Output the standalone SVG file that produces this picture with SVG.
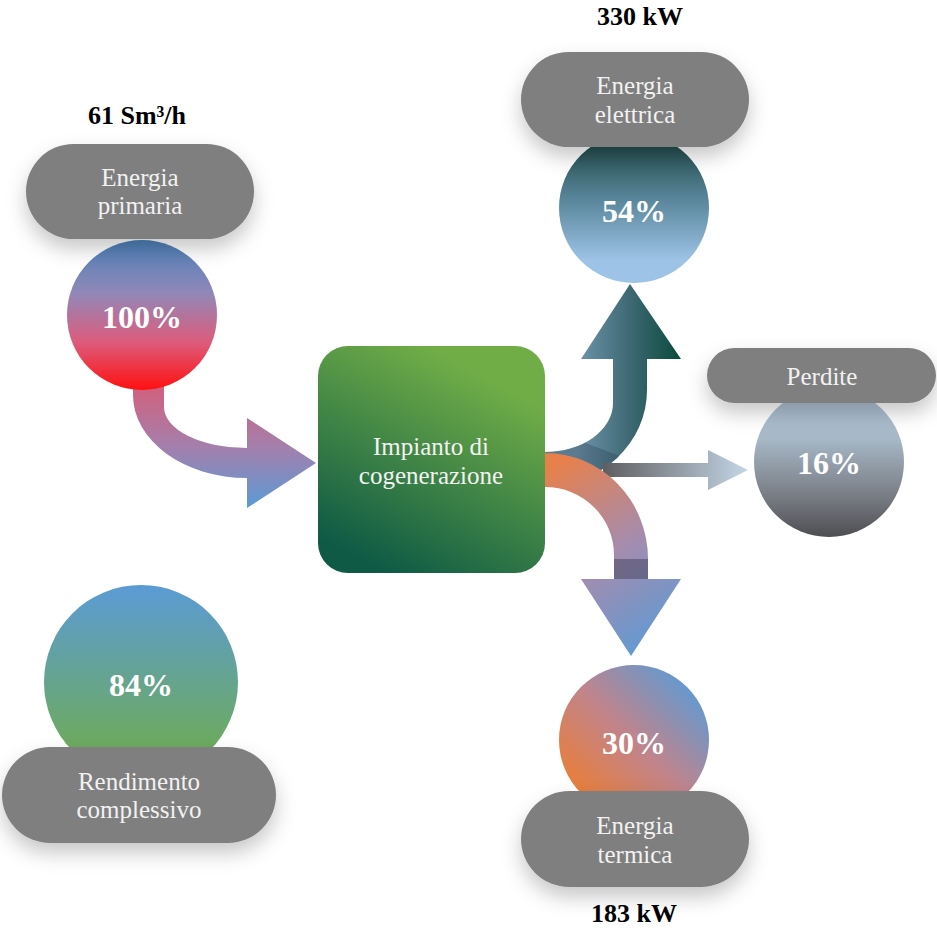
<svg xmlns="http://www.w3.org/2000/svg" width="937" height="930" viewBox="0 0 937 930">
<style>
.pill{fill:#7f7f7f;filter:url(#sh)}
.lbl{font-family:"Liberation Serif",serif;font-size:25px;fill:#f2f2f2;text-anchor:middle}
.pct{font-family:"Liberation Serif",serif;font-size:32px;font-weight:bold;fill:#ffffff;text-anchor:middle}
.val{font-family:"Liberation Serif",serif;font-size:26px;font-weight:bold;fill:#000000;text-anchor:middle}
</style>
<defs>
<filter id="sh" x="-20%" y="-40%" width="140%" height="200%">
<feDropShadow dx="0" dy="10" stdDeviation="10" flood-color="#000" flood-opacity="0.22"/>
</filter>
<linearGradient id="gP" x1="0" y1="0" x2="0" y2="1">
<stop offset="0" stop-color="#4a80b8"/><stop offset="0.35" stop-color="#9088b8"/><stop offset="0.68" stop-color="#dc5c7c"/><stop offset="1" stop-color="#ff1010"/>
</linearGradient>
<linearGradient id="gE" x1="0" y1="0" x2="0" y2="1">
<stop offset="0" stop-color="#163f3a"/><stop offset="0.45" stop-color="#5a879c"/><stop offset="0.85" stop-color="#9dc3e6"/>
</linearGradient>
<linearGradient id="gL" x1="0" y1="0" x2="0" y2="1">
<stop offset="0" stop-color="#b2c6da"/><stop offset="0.35" stop-color="#a6b7c6"/><stop offset="0.7" stop-color="#7c8189"/><stop offset="1" stop-color="#4e4e52"/>
</linearGradient>
<linearGradient id="gT" x1="0.1" y1="0.9" x2="0.9" y2="0.1">
<stop offset="0" stop-color="#ed7d31"/><stop offset="0.5" stop-color="#c0848c"/><stop offset="1" stop-color="#5b9bd5"/>
</linearGradient>
<linearGradient id="gR" x1="0" y1="0" x2="0" y2="1">
<stop offset="0" stop-color="#5b9bd5"/><stop offset="1" stop-color="#70ad47"/>
</linearGradient>
<linearGradient id="gB" x1="0.75" y1="0.15" x2="0.3" y2="1">
<stop offset="0" stop-color="#70ad47"/><stop offset="1" stop-color="#0e5a45"/>
</linearGradient>
<linearGradient id="aIn" gradientUnits="userSpaceOnUse" x1="0" y1="385" x2="0" y2="508">
<stop offset="0" stop-color="#d3607c"/><stop offset="0.5" stop-color="#a47fac"/><stop offset="1" stop-color="#5b9bd5"/>
</linearGradient>
<linearGradient id="aE" gradientUnits="userSpaceOnUse" x1="575" y1="0" x2="681" y2="0">
<stop offset="0" stop-color="#7096ae"/><stop offset="0.5" stop-color="#3f6a75"/><stop offset="1" stop-color="#0a4a3c"/>
</linearGradient>
<linearGradient id="aT" gradientUnits="userSpaceOnUse" x1="560" y1="460" x2="680" y2="640">
<stop offset="0" stop-color="#e8804a"/><stop offset="0.5" stop-color="#a48caf"/><stop offset="1" stop-color="#5b9bd5"/>
</linearGradient>
<linearGradient id="aL" gradientUnits="userSpaceOnUse" x1="603" y1="0" x2="748" y2="0">
<stop offset="0" stop-color="#5e5e60"/><stop offset="1" stop-color="#c4d6e6"/>
</linearGradient>
<clipPath id="cE"><path d="M545,452 A68,49 0 0 0 613,403 V359 H581 L630,284 L681,359 H647 V390 A102,96 0 0 1 545,486 Z"/></clipPath>
</defs>

<g id="connectors">
<path id="arrow-in" d="M133,385 V395 A114,83 0 0 0 247,478 V508 L316,463 L247,418 V448 A83,41 0 0 1 164,407 V385 Z" fill="url(#aIn)"/>
<path id="arrow-elettrica" d="M545,452 A68,49 0 0 0 613,403 V359 H581 L630,284 L681,359 H647 V390 A102,96 0 0 1 545,486 Z" fill="url(#aE)"/>
<polygon points="540,425 583,442 670,475 670,500 540,500" fill="#1c2c3a" opacity="0.25" clip-path="url(#cE)"/>
<path id="arrow-perdite" d="M603,463 H708 V450 L748,470 L708,490 V477 H603 Z" fill="url(#aL)"/>
<path id="arrow-termica" d="M545,453 A103,106 0 0 1 648,559 V579 H681 L631,656 L581,579 H614 V555 A69,68 0 0 0 545,487 Z" fill="url(#aT)"/>
<rect x="614" y="559" width="34" height="20" fill="#3c3850" opacity="0.45"/>
</g>

<g id="impianto">
<rect x="318" y="346" width="227" height="227" rx="30" fill="url(#gB)"/>
<text class="lbl" x="431" y="455">Impianto di</text>
<text class="lbl" x="431" y="484">cogenerazione</text>
</g>

<g id="energia-primaria">
<text class="val" x="137" y="124">61 Sm³/h</text>
<circle cx="142" cy="315" r="75" fill="url(#gP)"/>
<rect class="pill" x="26" y="144" width="228" height="95" rx="47.5"/>
<text class="lbl" x="140" y="186">Energia</text>
<text class="lbl" x="140" y="214">primaria</text>
<text class="pct" x="142" y="328">100%</text>
</g>

<g id="energia-elettrica">
<text class="val" x="640" y="25">330 kW</text>
<circle cx="634" cy="208" r="75" fill="url(#gE)"/>
<rect class="pill" x="521" y="52" width="228" height="95" rx="47.5"/>
<text class="lbl" x="635" y="94">Energia</text>
<text class="lbl" x="635" y="123">elettrica</text>
<text class="pct" x="634" y="222">54%</text>
</g>

<g id="perdite">
<circle cx="829" cy="462" r="75" fill="url(#gL)"/>
<rect class="pill" x="707" y="348" width="229" height="55" rx="27.5"/>
<text class="lbl" x="822" y="385">Perdite</text>
<text class="pct" x="829" y="474">16%</text>
</g>

<g id="energia-termica">
<circle cx="634" cy="740" r="75" fill="url(#gT)"/>
<rect class="pill" x="521" y="791" width="228" height="96" rx="48"/>
<text class="lbl" x="635" y="834">Energia</text>
<text class="lbl" x="635" y="863">termica</text>
<text class="pct" x="634" y="754">30%</text>
<text class="val" x="634" y="922">183 kW</text>
</g>

<g id="rendimento">
<circle cx="141" cy="682" r="97" fill="url(#gR)"/>
<rect class="pill" x="2" y="747" width="274" height="96" rx="48"/>
<text class="lbl" x="139" y="790">Rendimento</text>
<text class="lbl" x="139" y="818">complessivo</text>
<text class="pct" x="141" y="696">84%</text>
</g>
</svg>
